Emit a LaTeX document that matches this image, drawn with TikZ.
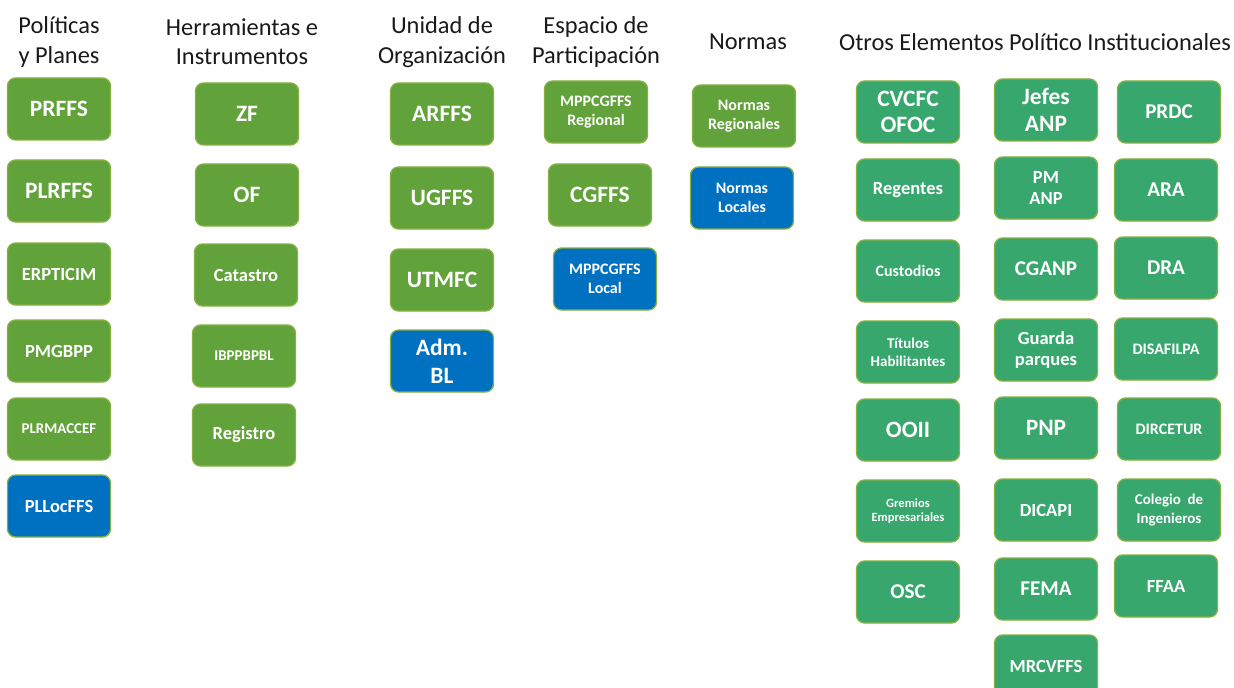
\documentclass[tikz,border=0pt]{standalone}
\usepackage{fontspec}
\setmainfont{Carlito}
\definecolor{verdeP}{HTML}{62A23A}
\definecolor{verdeO}{HTML}{38A76E}
\definecolor{azulL}{HTML}{0070C0}
\definecolor{bordeV}{HTML}{86B041}
\tikzset{
  caja/.style={rectangle, rounded corners=6pt, draw=bordeV, line width=1pt,
    minimum width=77.25pt, minimum height=46.5pt, inner sep=0pt,
    text=white, align=center, font=\bfseries},
  cajaP/.style={caja, fill=verdeP},
  cajaO/.style={caja, fill=verdeO},
  cajaL/.style={caja, fill=azulL},
  fA/.style={font=\bfseries\fontsize{17.6}{20}\selectfont},
  fB/.style={font=\bfseries\fontsize{15.8}{19}\selectfont},
  fC/.style={font=\bfseries\fontsize{13.9}{16.3}\selectfont},
  fD/.style={font=\bfseries\fontsize{12}{14.6}\selectfont},
  fE/.style={font=\bfseries\fontsize{11.2}{13.7}\selectfont},
  fF/.style={font=\bfseries\fontsize{9.4}{10.5}\selectfont},
  titulo/.style={align=center, inner sep=0pt, text=black!90,
    font=\fontsize{18.3}{22}\selectfont}
}
\begin{document}
\begin{tikzpicture}[x=0.75pt,y=-0.75pt]
\useasboundingbox (0,0) rectangle (1234,688);
\clip (0,0) rectangle (1234,688);
\node[titulo] (tPol) at (59,42) {Políticas\\y Planes};
\node[titulo] (tHer) at (242,42) {Herramientas e\\Instrumentos};
\node[titulo] (tUni) at (442,42) {Unidad de\\Organización};
\node[titulo] (tEsp) at (596,42) {Espacio de\\Participación};
\node[titulo] (tNor) at (748,42) {Normas};
\node[titulo] (tOtr) at (1035,42) {Otros Elementos Político Institucionales};

\node[cajaP,fA] (prffs) at (59,109) {PRFFS};
\node[cajaP,fA] (plrffs) at (59,191) {PLRFFS};
\node[cajaP,fC] (erpticim) at (59,274) {ERPTICIM};
\node[cajaP,fC] (pmgbpp) at (59,351) {PMGBPP};
\node[cajaP,fE] (plrmaccef) at (59,429) {PLRMACCEF};
\node[cajaL,fC] (pllocffs) at (59,506) {PLLocFFS};

\node[cajaP,fA] (zf) at (247,114) {ZF};
\node[cajaP,fA] (of) at (247,195) {OF};
\node[cajaP,fC] (catastro) at (246,275) {Catastro};
\node[cajaP,fE] (ibppbpbl) at (244,356) {IBPPBPBL};
\node[cajaP,fC] (registro) at (244,435) {Registro};

\node[cajaP,fA] (arffs) at (442,114) {ARFFS};
\node[cajaP,fA] (ugffs) at (442,198) {UGFFS};
\node[cajaP,fA] (utmfc) at (442,280) {UTMFC};
\node[cajaL,font=\bfseries\fontsize{17.6}{21}\selectfont] (admbl) at (442,361) {Adm.\\BL};

\node[cajaP,fD] (mppReg) at (596,112) {MPPCGFFS\\Regional};
\node[cajaP,fA] (cgffs) at (600,195) {CGFFS};
\node[cajaL,fD] (mppLoc) at (605,279) {MPPCGFFS\\Local};

\node[cajaP,fD] (normReg) at (744,116) {Normas\\Regionales};
\node[cajaL,fD] (normLoc) at (742,198) {Normas\\Locales};

\node[cajaO,fA] (cvcfc) at (908,112) {CVCFC\\OFOC};
\node[cajaO,fC] (regentes) at (908,190) {Regentes};
\node[cajaO,fD] (custodios) at (908,271) {Custodios};
\node[cajaO,fE] (titulos) at (908,352) {Títulos\\Habilitantes};
\node[cajaO,fA] (ooii) at (908,430) {OOII};
\node[cajaO,fF] (gremios) at (908,511) {Gremios\\Empresariales};
\node[cajaO,fB] (osc) at (908,592) {OSC};

\node[cajaO,fA] (jefes) at (1046,110) {Jefes\\ANP};
\node[cajaO,fC] (pmanp) at (1046,188) {PM\\ANP};
\node[cajaO,fB] (cganp) at (1046,269) {CGANP};
\node[cajaO,fC] (guarda) at (1046,350) {Guarda\\parques};
\node[cajaO,fA] (pnp) at (1046,428) {PNP};
\node[cajaO,fC] (dicapi) at (1046,510) {DICAPI};
\node[cajaO,fB] (fema) at (1046,589) {FEMA};
\node[cajaO,fC] (mrcvffs) at (1046,666) {MRCVFFS};

\node[cajaO,fB] (prdc) at (1169,112) {PRDC};
\node[cajaO,fB] (ara) at (1166,190) {ARA};
\node[cajaO,fB] (dra) at (1166,268) {DRA};
\node[cajaO,fD] (disafilpa) at (1166,349) {DISAFILPA};
\node[cajaO,fD] (dircetur) at (1169,429) {DIRCETUR};
\node[cajaO,fE] (colegio) at (1169,510) {Colegio\ \ de\\Ingenieros};
\node[cajaO,fC] (ffaa) at (1166,586) {FFAA};
\end{tikzpicture}
\end{document}
